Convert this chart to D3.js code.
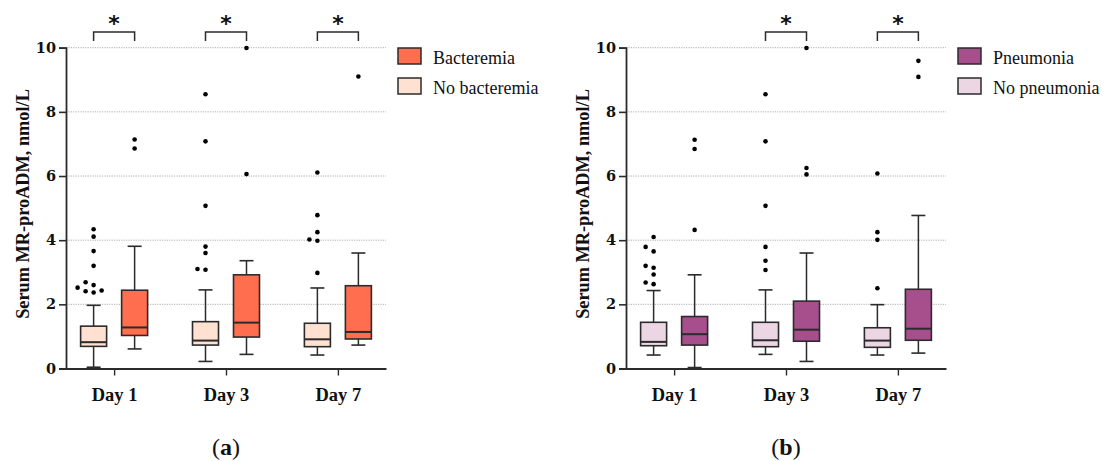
<!DOCTYPE html>
<html><head><meta charset="utf-8">
<script src="https://cdn.jsdelivr.net/npm/d3@7"></script>
<style>body{margin:0;background:#fff}svg{display:block}</style>
</head><body>
<svg id="c" width="1107" height="461"></svg>
<script>
// ---------- data ----------
const days = ["Day 1", "Day 3", "Day 7"];
const yTicks = [0, 2, 4, 6, 8, 10];
const yLabel = "Serum MR-proADM, nmol/L";

// panel (a): [whiskerLow, Q1, median, Q3, whiskerHigh]
const noBactStats = [[0.04, 0.69, 0.82, 1.32, 1.97], [0.22, 0.73, 0.87, 1.46, 2.45], [0.42, 0.68, 0.91, 1.41, 2.51]];
const bactStats   = [[0.61, 1.03, 1.28, 2.44, 3.81], [0.44, 0.98, 1.43, 2.92, 3.36], [0.73, 0.92, 1.14, 2.58, 3.60]];
const noBactOut = [[2.37, 2.41, 2.43, 2.52, 2.60, 2.69, 3.20, 3.66, 4.11, 4.34], [3.08, 3.10, 3.60, 3.80, 5.07, 7.08, 8.55], [2.98, 3.98, 4.02, 4.25, 4.78, 6.11]];
const bactOut   = [[6.86, 7.14], [6.06, 9.99], [9.10]];
const sigA = [true, true, true];

// panel (b)
const noPneuStats = [[0.42, 0.71, 0.83, 1.44, 2.43], [0.44, 0.68, 0.88, 1.44, 2.45], [0.42, 0.66, 0.87, 1.27, 1.99]];
const pneuStats   = [[0.03, 0.73, 1.07, 1.62, 2.92], [0.22, 0.85, 1.21, 2.10, 3.60], [0.48, 0.88, 1.24, 2.47, 4.77]];
const noPneuOut = [[2.63, 2.68, 2.93, 3.14, 3.20, 3.65, 3.79, 4.10], [3.07, 3.36, 3.79, 5.07, 7.08, 8.55], [2.50, 4.01, 4.25, 6.08]];
const pneuOut   = [[4.32, 6.84, 7.13], [6.05, 6.25, 9.99], [9.09, 9.59]];
const sigB = [false, true, true];

const panels = [
  {label: "a", ox: 0, yesName: "Bacteremia", noName: "No bacteremia", yesColor: "#FF6E4F", noColor: "#FFE1D2",
   yesStats: bactStats, noStats: noBactStats, yesOut: bactOut, noOut: noBactOut, sig: sigA},
  {label: "b", ox: 560, yesName: "Pneumonia", noName: "No pneumonia", yesColor: "#A74E8D", noColor: "#ECD6E4",
   yesStats: pneuStats, noStats: noPneuStats, yesOut: pneuOut, noOut: noPneuOut, sig: sigB}
];

// ---------- drawing ----------
const svg = d3.select("#c");
const serif = "'Liberation Serif', 'Times New Roman', serif";
const ink = "#2b2b2b";
const y = d3.scaleLinear().domain([0, 10]).range([368.5, 47.7]);
const boxW = 26, capW = 14, groupOff = 20.5;

function dodge(vals) {
  // deterministic horizontal spreading of close points
  const placed = [];
  const sorted = vals.slice().sort((a, b) => a - b);
  const cand = [0, -8, 8, -16, 16, -24, 24];
  sorted.forEach(v => {
    const py = y(v);
    for (const c of cand) {
      if (placed.every(p => Math.hypot(p.dx - c, p.py - py) >= 5.5)) { placed.push({v, py, dx: c}); break; }
    }
  });
  return placed;
}

panels.forEach(P => {
  const g = svg.append("g").attr("transform", `translate(${P.ox},0)`);
  const x = d3.scalePoint().domain(days).range([66, 386]).padding(0.43);

  // grid
  g.append("g").selectAll("line").data(yTicks.filter(t => t > 0)).join("line")
    .attr("x1", 66).attr("x2", 386).attr("y1", d => y(d)).attr("y2", d => y(d))
    .attr("stroke", "#9a9a9a").attr("stroke-width", 0.8).attr("stroke-dasharray", "1.2,1.2");

  // y axis
  const ya = g.append("g").attr("transform", "translate(66,0)")
    .call(d3.axisLeft(y).tickValues(yTicks).tickSize(7).tickPadding(3).tickFormat(d3.format("d")));
  ya.select(".domain").attr("stroke", ink).attr("stroke-width", 1.8);
  ya.selectAll(".tick line").attr("stroke", ink).attr("stroke-width", 1.6);
  ya.selectAll(".tick text").attr("font-family", "'DejaVu Serif', serif").attr("font-weight", "bold")
    .attr("font-size", 14.5).attr("fill", "#111");

  // x axis
  const xa = g.append("g").attr("transform", `translate(0,${y(0)})`)
    .call(d3.axisBottom(x).tickSize(7).tickSizeOuter(0).tickPadding(12));
  xa.select(".domain").attr("stroke", ink).attr("stroke-width", 1.8);
  xa.selectAll(".tick line").attr("stroke", ink).attr("stroke-width", 1.4);
  xa.selectAll(".tick text").attr("font-family", serif).attr("font-weight", "bold")
    .attr("font-size", 18.5).attr("fill", "#111");

  // y label
  g.append("text").attr("transform", `translate(29,${204})rotate(-90)`).attr("text-anchor", "middle")
    .attr("font-family", serif).attr("font-weight", "bold").attr("font-size", 18.3).attr("fill", "#111")
    .text(yLabel);

  const groups = [];
  days.forEach((d, i) => {
    groups.push({cx: x(d) - groupOff, s: P.noStats[i], out: P.noOut[i], color: P.noColor});
    groups.push({cx: x(d) + groupOff, s: P.yesStats[i], out: P.yesOut[i], color: P.yesColor});
  });

  groups.forEach(G => {
    const [lo, q1, med, q3, hi] = G.s;
    const bg = g.append("g");
    bg.append("line").attr("x1", G.cx).attr("x2", G.cx).attr("y1", y(hi)).attr("y2", y(q3))
      .attr("stroke", ink).attr("stroke-width", 1.5);
    bg.append("line").attr("x1", G.cx).attr("x2", G.cx).attr("y1", y(q1)).attr("y2", y(lo))
      .attr("stroke", ink).attr("stroke-width", 1.5);
    [lo, hi].forEach(v => bg.append("line").attr("x1", G.cx - capW / 2).attr("x2", G.cx + capW / 2)
      .attr("y1", y(v)).attr("y2", y(v)).attr("stroke", ink).attr("stroke-width", 1.6));
    bg.append("rect").attr("x", G.cx - boxW / 2).attr("width", boxW).attr("y", y(q3)).attr("height", y(q1) - y(q3))
      .attr("fill", G.color).attr("stroke", ink).attr("stroke-width", 1.6);
    bg.append("line").attr("x1", G.cx - boxW / 2).attr("x2", G.cx + boxW / 2).attr("y1", y(med)).attr("y2", y(med))
      .attr("stroke", ink).attr("stroke-width", 2);
    bg.selectAll("circle").data(dodge(G.out)).join("circle")
      .attr("cx", p => G.cx + p.dx).attr("cy", p => p.py).attr("r", 2.3).attr("fill", "#000");
  });

  // significance brackets
  days.forEach((d, i) => {
    if (!P.sig[i]) return;
    const xl = x(d) - groupOff, xr = x(d) + groupOff;
    g.append("path").attr("d", `M${xl},41V32H${xr}V41`).attr("fill", "none")
      .attr("stroke", ink).attr("stroke-width", 1.5);
    g.append("text").attr("x", x(d)).attr("y", 31).attr("text-anchor", "middle")
      .attr("font-family", "'DejaVu Sans', sans-serif").attr("font-weight", "bold").attr("font-size", 22)
      .attr("fill", "#111").text("*");
  });

  // legend
  const leg = [{name: P.yesName, color: P.yesColor}, {name: P.noName, color: P.noColor}];
  const lg = g.append("g").attr("transform", "translate(398,48)");
  leg.forEach((L, i) => {
    lg.append("rect").attr("x", 0).attr("y", i * 30).attr("width", 23).attr("height", 16)
      .attr("fill", L.color).attr("stroke", ink).attr("stroke-width", 1.5);
    lg.append("text").attr("x", 35).attr("y", i * 30 + 15.5).attr("font-family", serif)
      .attr("font-size", 18).attr("fill", "#111").text(L.name);
  });

  // panel label
  const pl = g.append("text").attr("x", 226).attr("y", 455).attr("text-anchor", "middle")
    .attr("font-family", serif).attr("font-size", 24).attr("fill", "#111");
  pl.append("tspan").text("(");
  pl.append("tspan").attr("font-weight", "bold").text(P.label);
  pl.append("tspan").text(")");
});
</script>
</body></html>
